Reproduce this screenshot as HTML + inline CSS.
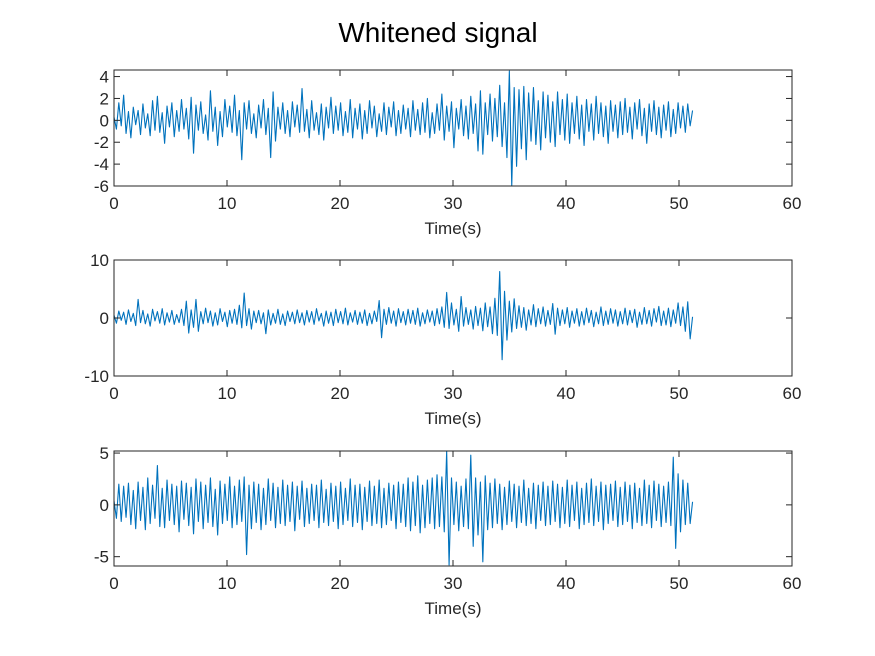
<!DOCTYPE html>
<html><head><meta charset="utf-8"><style>
body{margin:0;background:#fff;}
svg{display:block;font-family:"Liberation Sans",sans-serif;}
</style></head><body>
<svg id="fig" width="875" height="656">
<rect width="875" height="656" fill="#fff"/>
<text x="438" y="42" text-anchor="middle" font-size="28" fill="#000">Whitened signal</text>
</svg>
<script>
const tEnd = 51.2;
const xTicks = [0,10,20,30,40,50,60];
const s1 = [0.3,-0.8,1.6,-0.5,2.3,-1.2,0.8,-1.6,1.2,-0.4,0.9,-1.3,1.5,-0.7,0.6,-1.4,1.8,-0.9,2.2,-1.1,0.7,-2.1,1.3,-0.6,1.6,-1.5,0.9,-1.0,1.9,-0.8,
1.1,-1.7,2.1,-3.0,1.4,-0.9,1.7,-1.2,0.5,-1.8,2.7,-1.0,1.2,-2.3,0.8,-1.5,1.9,-0.6,1.3,-1.1,2.3,-1.4,0.9,-3.6,1.6,-0.8,1.8,-1.2,0.6,-1.6,
1.4,-0.7,1.9,-1.3,1.1,-3.4,2.6,-1.9,1.2,-0.8,1.6,-1.2,0.9,-1.5,1.7,-0.6,1.4,-1.1,2.9,-1.0,1.0,-1.6,1.8,-0.9,0.7,-1.3,1.5,-1.8,1.2,-0.7,
2.1,-1.2,1.3,-0.9,1.6,-1.4,0.8,-1.1,1.9,-1.6,1.1,-0.8,1.5,-1.7,0.9,-1.2,1.8,-0.7,1.3,-1.5,0.6,-1.0,1.6,-1.3,1.2,-0.6,1.7,-1.4,0.9,-1.2,
1.4,-0.8,1.1,-1.5,1.8,-0.9,1.0,-1.3,1.6,-1.1,2.0,-1.6,0.7,-1.2,1.5,-0.9,2.4,-1.8,1.3,-1.0,1.7,-2.5,1.1,-0.8,1.9,-1.4,1.3,-1.7,2.2,-1.2,
1.5,-2.8,2.7,-3.1,1.6,-1.3,2.4,-1.9,2.0,-1.5,3.2,-2.4,1.6,-3.4,4.5,-6.0,3.0,-4.2,2.8,-2.6,3.1,-3.6,2.5,-1.9,3.0,-2.2,1.8,-2.7,2.6,-1.6,
2.3,-2.0,1.7,-2.4,2.6,-1.3,1.9,-1.8,2.4,-2.1,1.6,-1.2,2.2,-1.7,1.4,-2.3,1.9,-1.0,1.5,-1.8,2.2,-1.2,1.6,-1.5,1.3,-2.1,1.8,-1.0,1.4,-1.6,
1.7,-1.3,2.0,-1.1,1.2,-1.7,1.6,-0.8,1.9,-1.4,1.1,-2.1,1.5,-1.0,1.8,-1.3,1.2,-1.6,1.4,-0.9,1.7,-1.5,1.0,-1.2,1.6,-0.7,1.3,-1.1,1.5,-0.5,0.9];
const s2 = [0.5,-0.9,1.2,-0.4,1.0,-1.1,1.4,-0.6,0.8,-1.3,3.2,-0.8,1.3,-1.0,0.7,-1.4,1.5,-0.5,1.1,-0.9,1.6,-1.2,0.9,-0.7,1.3,-1.1,0.6,-0.8,1.5,-1.3,
2.9,-2.6,1.4,-1.6,3.2,-2.3,1.1,-1.0,1.7,-0.8,1.2,-1.4,0.9,-1.2,1.6,-0.6,1.0,-1.5,1.3,-0.9,1.5,-1.1,2.2,-1.7,4.3,-1.3,1.6,-1.9,1.2,-0.8,
1.3,-1.0,0.9,-2.7,1.4,-1.2,0.8,-0.9,1.5,-1.1,0.7,-1.3,1.2,-0.6,1.0,-1.0,1.4,-0.8,0.9,-1.2,1.3,-0.7,1.1,-1.1,1.6,-0.5,0.8,-1.4,1.2,-0.9,
1.0,-1.3,1.5,-0.8,1.1,-1.0,1.7,-1.2,0.9,-0.7,1.3,-1.1,1.0,-0.9,1.4,-1.3,0.8,-1.0,1.2,-0.6,3.0,-3.4,1.5,-1.1,1.8,-0.9,1.2,-1.4,1.6,-0.8,
1.1,-1.2,1.5,-0.9,1.3,-1.1,1.7,-1.4,0.9,-1.0,1.4,-0.7,1.2,-1.3,1.6,-1.0,1.9,-1.6,4.4,-1.8,2.6,-1.2,1.5,-2.3,3.7,-1.4,1.8,-1.1,1.4,-1.9,
2.0,-1.3,1.7,-2.2,2.6,-1.5,1.9,-2.7,3.4,-3.0,8.0,-7.2,4.6,-3.8,2.9,-2.4,3.3,-1.8,2.1,-1.6,1.8,-2.1,1.4,-1.2,2.3,-1.5,1.6,-1.0,1.9,-1.4,
1.3,-1.1,2.5,-2.8,1.7,-1.3,1.4,-1.0,1.8,-1.6,1.2,-0.9,1.6,-1.4,1.1,-1.2,1.7,-0.8,1.3,-1.5,1.0,-1.0,1.9,-1.3,1.2,-1.1,1.6,-0.9,1.4,-1.4,
1.1,-1.0,1.7,-1.2,1.3,-0.8,1.5,-1.6,1.0,-1.1,1.8,-1.0,1.3,-1.4,1.6,-0.7,2.0,-1.3,1.2,-1.2,1.7,-1.5,1.4,-0.9,2.6,-1.3,1.9,-2.3,2.8,-3.6,0.2];
const s3 = [0.4,-1.3,2.0,-1.6,1.8,-1.2,2.1,-1.9,1.4,-2.3,2.2,-1.5,1.7,-2.4,2.6,-1.8,1.9,-1.3,3.8,-2.1,1.6,-2.2,2.4,-1.5,2.0,-1.9,1.8,-2.6,2.3,-1.4,
2.1,-2.0,1.7,-2.8,2.5,-1.6,2.2,-2.3,1.9,-1.7,2.6,-2.1,1.5,-2.9,2.3,-1.8,2.0,-1.5,2.7,-2.2,1.8,-1.9,2.4,-1.6,2.7,-4.8,1.9,-2.3,2.2,-1.7,
2.0,-2.4,1.6,-1.9,2.5,-1.5,2.1,-2.2,1.7,-1.8,2.4,-2.0,1.9,-1.6,2.2,-2.5,1.8,-1.4,2.3,-2.1,1.6,-1.8,2.0,-1.5,1.9,-2.2,2.4,-1.7,1.5,-2.0,
2.1,-1.6,1.8,-2.3,2.2,-1.9,1.6,-1.5,2.5,-2.1,1.9,-1.7,2.0,-2.4,1.7,-1.6,2.3,-2.0,1.8,-1.8,2.4,-2.2,1.6,-1.9,2.1,-1.5,1.9,-2.3,2.2,-1.7,
2.0,-2.1,2.6,-2.5,2.2,-2.0,2.8,-2.7,1.9,-2.2,2.4,-1.8,2.6,-2.3,2.9,-2.1,2.7,-2.6,5.2,-5.8,2.6,-1.9,2.2,-2.5,1.8,-2.1,2.5,-2.3,4.8,-4.0,
2.6,-2.9,2.2,-5.5,2.8,-2.4,2.1,-2.2,2.5,-1.8,2.0,-2.4,1.7,-1.9,2.3,-1.6,2.0,-2.2,1.8,-1.7,2.4,-2.0,1.6,-1.8,2.1,-2.3,1.9,-1.5,2.2,-2.0,
1.8,-1.9,2.3,-1.6,2.0,-2.2,1.7,-1.8,2.4,-2.1,1.9,-1.5,2.2,-2.3,1.6,-1.9,2.1,-1.7,2.5,-2.0,1.8,-1.6,2.2,-2.4,1.9,-1.8,2.0,-1.5,2.3,-2.1,
1.7,-1.9,2.2,-1.6,1.9,-2.3,2.1,-1.7,1.6,-2.0,2.4,-1.8,1.9,-2.2,2.3,-1.5,2.0,-2.1,1.8,-1.7,2.2,-2.0,4.6,-4.2,3.0,-2.6,2.4,-1.9,2.1,-1.8,0.3];
const panels = [
 {name:'top', data:s1, top:70, bottom:186, ymin:-6, ymax:4.6, yTicks:[-6,-4,-2,0,2,4]},
 {name:'middle', data:s2, top:260, bottom:376, ymin:-10, ymax:10, yTicks:[-10,0,10]},
 {name:'bottom', data:s3, top:451, bottom:566, ymin:-5.9, ymax:5.2, yTicks:[-5,0,5]}
];
const L=114, R=792, XMAX=60;
const NS='http://www.w3.org/2000/svg';
const svg=document.getElementById('fig');
function mk(t,a,p){const e=document.createElementNS(NS,t);for(const k in a)e.setAttribute(k,a[k]);(p||svg).appendChild(e);return e;}
panels.forEach(pn=>{
 const g=mk('g',{});
 
 
 const xs=v=>L+(v/XMAX)*(R-L);
 const ys=v=>pn.bottom-(v-pn.ymin)/(pn.ymax-pn.ymin)*(pn.bottom-pn.top);
 const bg=mk('rect',{x:L,y:pn.top,width:R-L,height:pn.bottom-pn.top,fill:'#fff'},g);
 
 
 const n=pn.data.length, step=tEnd/(n-1);
 let d='';
 pn.data.forEach((v,i)=>{d+=(i?'L':'M')+xs(i*step).toFixed(2)+' '+ys(v).toFixed(2);});
 const line=mk('path',{d:d,fill:'none',stroke:'#0072BD','stroke-width':1.1,'stroke-linejoin':'round'},g);
 
 
 const box=mk('rect',{x:L,y:pn.top,width:R-L,height:pn.bottom-pn.top,fill:'none',stroke:'#262626','stroke-width':1},g);
 
 
 xTicks.forEach(t=>{
  const x=xs(t);
  mk('line',{x1:x,x2:x,y1:pn.bottom,y2:pn.bottom-6,stroke:'#262626'},g);
  mk('line',{x1:x,x2:x,y1:pn.top,y2:pn.top+6,stroke:'#262626'},g);
  const tx=mk('text',{x:x,y:pn.bottom+23,'text-anchor':'middle','font-size':17,fill:'#262626'},g);
  tx.textContent=t;
  
  
 });
 pn.yTicks.forEach(t=>{
  const y=ys(t);
  mk('line',{x1:L,x2:L+6,y1:y,y2:y,stroke:'#262626'},g);
  mk('line',{x1:R,x2:R-6,y1:y,y2:y,stroke:'#262626'},g);
  const tx=mk('text',{x:L-5,y:y+6,'text-anchor':'end','font-size':17,fill:'#262626'},g);
  tx.textContent=t;
  
  
 });
 const xl=mk('text',{x:(L+R)/2,y:pn.bottom+48,'text-anchor':'middle','font-size':17,fill:'#262626'},g);
 xl.textContent='Time(s)';
 
 
});
</script>
</body></html>
